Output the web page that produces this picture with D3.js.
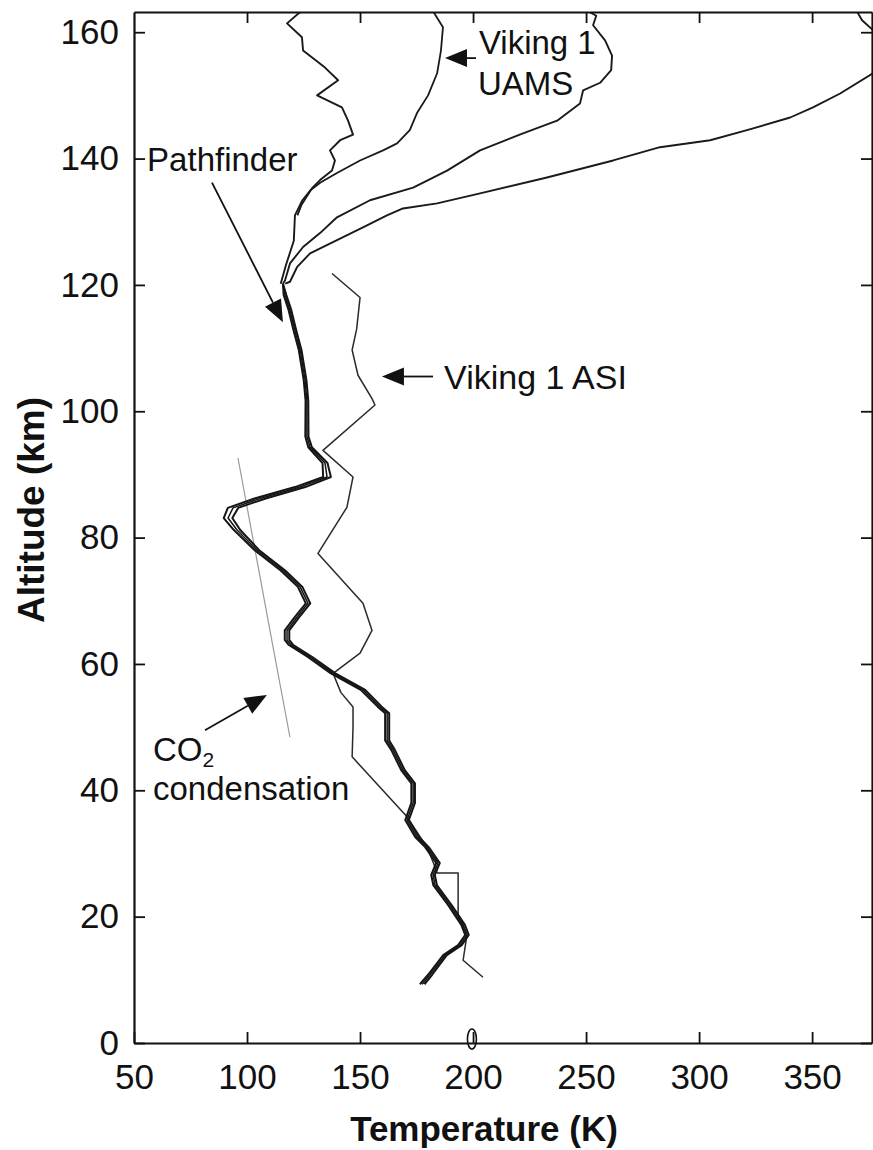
<!DOCTYPE html>
<html><head><meta charset="utf-8">
<script src="https://cdn.jsdelivr.net/npm/d3@7"></script>
<style>
html,body{margin:0;padding:0;background:#fff;}
svg text{font-family:"Liberation Sans",Arial,Helvetica,sans-serif;fill:#111;}
</style></head><body>
<svg id="chart" width="873" height="1150"></svg>
<script>
// ---------- tick labels ----------
const xTicks = [50,100,150,200,250,300,350];
const yTicks = [0,20,40,60,80,100,120,140,160];

// ---------- Pathfinder lower profile (common part, with spread) ----------
const pfLowAlt  = [9.3,10.8,13.9,15.5,17.1,18.7,21.8,25.0,26.6,28.5,31.0,32.6,35.3,38.0,41.1,43.2,46.4,47.9,52.2,53.2,55.9,58.5,61.1,63.0,63.8,65.3,67.4,69.6,72.2,74.8,78.0,81.2,83.1,84.7,86.2,88.0,89.6,91.8,94.3,96.0,101.7,104.9,109.7,112.8,116.0,118.4,120.2];
const pfLowTemp = [177.5,181,187.6,194.2,197.3,195.6,189.8,183.2,182.3,184.5,179.6,175.2,170.8,173.5,173.5,169,164.6,162,162,158.8,151.3,138.1,127.9,119.5,117.7,117.7,122.1,127,123.5,115.9,104.4,95.6,91.6,93.8,105.8,123.5,135.4,134.5,127.9,126.5,126.5,125.7,123.5,121.2,119,116.8,115.9];
const pfLowErr  = [1.0,0.9,0.8,0.8,0.8,0.8,0.8,0.8,0.8,0.8,0.8,0.8,0.8,0.8,0.8,0.8,0.8,0.9,0.9,0.9,1.0,1.0,1.0,1.0,1.0,1.0,1.0,1.0,1.0,1.0,1.0,1.4,1.9,2.3,2.5,2.3,1.7,1.1,0.8,0.7,0.6,0.6,0.6,0.6,0.6,0.6,0.0];

// ---------- Pathfinder upper branches (above 120 km) ----------
const pfAAlt  = [120.2,123.1,127,131,133.4,135.4,136.6,138.1,139.7,141.3,142.9,143.8,146,148.1,150,152.4,154.4,157.1,159.2,161.4,163.2];
const pfATemp = [114.9,117.2,120.7,121.2,124.5,129,132.3,137.6,138.9,136.7,141.2,146.9,144.7,142,131,140.3,134.5,124.8,124.3,117.7,123.5];
const pfBAlt  = [120.2,120.7,123.4,126,128.2,130.7,133.4,135.4,138.1,141.3,144,146,148.7,150.8,152,154,156.3,158.7,161.1,162.6,163.2];
const pfBTemp = [115.9,116.8,119,124.8,132.3,139.8,154.4,173.5,188.5,203.1,222.1,237.2,247.3,248.7,256.2,261.1,261.5,258.4,253.1,254.5,251.5];
const pfCAlt  = [120.2,120.5,122.8,125,127.1,129.1,131,132.1,132.9,134.5,137,139.7,141.8,142.9,144.5,146.5,148.1,150.3,153.5,156,159,160.3,161.9,163.2];
const pfCTemp = [116.9,119,122.1,127.9,139.8,151.3,161.9,169,184.1,203.1,232.7,262,282.7,304.9,321.2,340.3,350.4,362.4,377,384,381,377,372.1,370];

// ---------- Viking 1 UAMS ----------
const uamsAlt  = [131,132.6,135,136.2,137.7,139.7,141.3,142.4,144.5,147.2,150,153.5,157.1,160.8,163.2];
const uamsTemp = [122.3,124,128.2,132.5,139.8,150,160.2,166.4,172,175.2,180.1,184.1,185.8,186.7,182.5];

// ---------- Viking 1 ASI ----------
const asiAlt  = [121.8,118,113,109.7,105.7,102,101,93.8,89.6,84.8,77.5,69.6,65.3,61.7,58.5,55.5,53.2,50,45.3,35.8,31,28.5,26.9,26.9,20.3,17.1,13.1,10.4];
const asiTemp = [137.6,150,148.5,146.5,149.1,155.3,156.6,133.6,146.9,144.2,131.4,151.3,155.3,150,138.1,141.5,146.9,146.9,146.5,170.8,179.6,182.5,184.1,193.4,193.4,197.3,195.6,204.4];

// ---------- CO2 condensation curve ----------
const co2Alt  = [92.6,62.7,48.4];
const co2Temp = [96,111.5,119];

// ---------- scales ----------
const svg = d3.select("#chart");
const x = d3.scaleLinear().domain([50,376.5]).range([134,872]);
const y = d3.scaleLinear().domain([0,163.2]).range([1043,12]);
const FONT = '"Liberation Sans",Arial,Helvetica,sans-serif';

svg.append("defs").append("clipPath").attr("id","plot")
  .append("rect").attr("x",x(50)).attr("y",y(163.2))
  .attr("width",x(376.5)-x(50)).attr("height",y(0)-y(163.2));

const zip = (a,t) => a.map((h,i)=>({h:h,t:t[i]}));
const line = d3.line().x(d=>x(d.t)).y(d=>y(d.h));
const g = svg.append("g").attr("clip-path","url(#plot)");

// CO2 condensation (thin grey)
g.append("path").datum(zip(co2Alt,co2Temp)).attr("d",line)
  .attr("fill","none").attr("stroke","#9a9a9a").attr("stroke-width",1.2);

// Viking ASI
g.append("path").datum(zip(asiAlt,asiTemp)).attr("d",line)
  .attr("fill","none").attr("stroke","#2a2a2a").attr("stroke-width",1.5).attr("stroke-linejoin","round");

// Viking UAMS
g.append("path").datum(zip(uamsAlt,uamsTemp)).attr("d",line)
  .attr("fill","none").attr("stroke","#1a1a1a").attr("stroke-width",1.8).attr("stroke-linejoin","round");

// Pathfinder rope (three lines) below 120 km
[-1,0,1].forEach(s=>{
  const pts = pfLowAlt.map((h,i)=>({h:h,t:pfLowTemp[i]+s*pfLowErr[i]}));
  g.append("path").datum(pts).attr("d",line)
    .attr("fill","none").attr("stroke","#151515").attr("stroke-width",s===0?1.5:2.0)
    .attr("stroke-linejoin","round");
});
// Upper branches
[[pfAAlt,pfATemp],[pfBAlt,pfBTemp],[pfCAlt,pfCTemp]].forEach(([a,t])=>{
  g.append("path").datum(zip(a,t)).attr("d",line)
    .attr("fill","none").attr("stroke","#1a1a1a").attr("stroke-width",1.9).attr("stroke-linejoin","round");
});

// ---------- axes ----------
function styleAxis(sel){
  sel.attr("font-family",FONT).attr("font-size",35);
  sel.selectAll("path").attr("stroke","#111").attr("stroke-width",2.2);
  sel.selectAll("line").attr("stroke","#111").attr("stroke-width",1.8);
  sel.selectAll("text").attr("fill","#111");
}
svg.append("g").attr("transform",`translate(0,${y(0)})`)
  .call(d3.axisBottom(x).tickValues(xTicks).tickSizeInner(-11).tickSizeOuter(0).tickPadding(21))
  .call(styleAxis);
svg.append("g").attr("transform",`translate(${x(50)},0)`)
  .call(d3.axisLeft(y).tickValues(yTicks).tickSizeInner(-11).tickSizeOuter(0).tickPadding(15))
  .call(styleAxis);
svg.append("g").attr("transform",`translate(0,${y(163.2)})`)
  .call(d3.axisTop(x).tickValues(xTicks.slice(1)).tickSizeInner(-11).tickSizeOuter(0).tickFormat(""))
  .call(styleAxis);
svg.append("g").attr("transform",`translate(${x(376.5)},0)`)
  .call(d3.axisRight(y).tickValues(yTicks).tickSizeInner(-11).tickSizeOuter(0).tickFormat(""))
  .call(styleAxis);

// small ellipse mark on the x axis at 200 K
svg.append("ellipse").attr("cx",x(199.5)).attr("cy",y(0)-4).attr("rx",4.5).attr("ry",10)
  .attr("fill","none").attr("stroke","#111").attr("stroke-width",1.6);

// ---------- axis titles ----------
svg.append("text").attr("x",484).attr("y",1141).attr("text-anchor","middle")
  .attr("font-size",35).attr("font-weight","bold").text("Temperature (K)");
svg.append("text").attr("transform","translate(44,510) rotate(-90)").attr("text-anchor","middle")
  .attr("font-size",37).attr("font-weight","bold").text("Altitude (km)");

// ---------- annotations ----------
function arrow(t0,h0,t1,h1){
  const x0=x(t0),y0=y(h0),x1=x(t1),y1=y(h1);
  const dx=x1-x0, dy=y1-y0, L=Math.hypot(dx,dy), ux=dx/L, uy=dy/L;
  const len=22, w=9;
  const bx=x1-ux*len, by=y1-uy*len;
  svg.append("line").attr("x1",x0).attr("y1",y0).attr("x2",bx).attr("y2",by)
    .attr("stroke","#111").attr("stroke-width",1.8);
  svg.append("path").attr("d",`M${x1},${y1}L${bx-uy*w},${by+ux*w}L${bx+uy*w},${by-ux*w}Z`).attr("fill","#111");
}
const lab = (t,h,s,fs)=>svg.append("text").attr("x",x(t)).attr("y",y(h)).attr("font-size",fs||33).text(s);

lab(55.8,138.1,"Pathfinder");
arrow(84.5,136.2,115.9,114.1);

lab(202.6,156.6,"Viking 1");
lab(202.2,150,"UAMS");
arrow(201.3,155.9,187.6,155.9);

lab(187.2,103.6,"Viking 1 ASI",34);
arrow(182.3,105.5,159.7,105.5);

const co = svg.append("text").attr("x",x(58.4)).attr("y",y(44.6)).attr("font-size",33);
co.append("tspan").text("CO");
co.append("tspan").attr("font-size",21).attr("dy",6).text("2");
lab(58.4,38.4,"condensation");
arrow(81.4,49.5,108.8,55.1);
</script>
</body></html>
